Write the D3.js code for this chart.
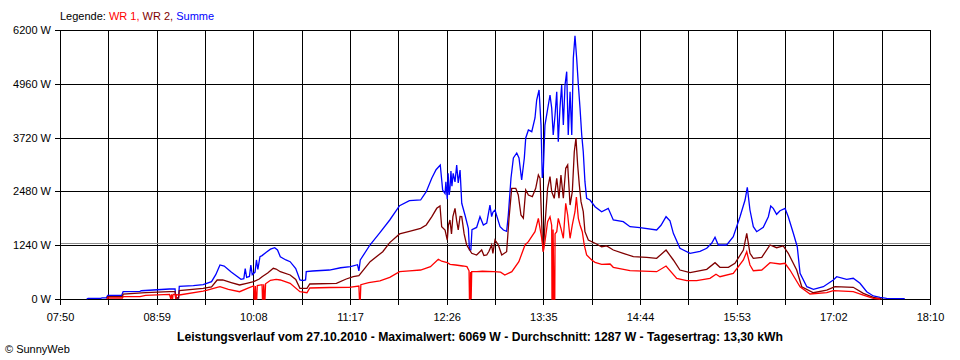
<!DOCTYPE html>
<html><head><meta charset="utf-8">
<script src="https://cdn.jsdelivr.net/npm/d3@7"></script>
<style>
html,body{margin:0;padding:0;background:#fff;}
svg{display:block;font-family:"Liberation Sans",Arial,sans-serif;}
</style></head>
<body>
<svg id="chart" width="960" height="360"></svg>
<script>
// ---- data (time in minutes after midnight, power in W) ----
const xTickLabels = ["07:50","08:59","10:08","11:17","12:26","13:35","14:44","15:53","17:02","18:10"];
const yTickValues = [0,1240,2480,3720,4960,6200];
const startMin = 470, endMin = 1090, gridCount = 18;
const averageW = 1287;
const titleText = "Leistungsverlauf vom 27.10.2010 - Maximalwert: 6069 W - Durchschnitt: 1287 W - Tagesertrag: 13,30 kWh";
const legendItems = [["Legende: ","#000000"],["WR 1, ","#ff0000"],["WR 2, ","#800000"],["Summe","#0000ff"]];

const summe = [[489,0],[490,15],[499,15],[500,25],[503,25],[504,85],[514,85],[515,170],[527,175],[528,190],[548,230],[552,235],[552.5,25],[554.5,25],[555,290],[565,310],[572,330],[578,400],[581,560],[584,784],[587,760],[592,620],[599,454],[601,470],[602,700],[603,500],[605,520],[606,780],[607,560],[609,620],[610,900],[611,680],[612.5,975],[614,1000],[617,1080],[620,1150],[623,1182],[625,1130],[627,975],[631,900],[634,860],[638,700],[641,438],[643,425],[645,440],[645.5,630],[650,645],[662,668],[670,720],[677,744],[682,790],[683,650],[684,900],[691,1250],[698,1530],[705,1821],[712,2150],[719,2266],[727,2282],[731,2473],[735,2789],[738,2980],[741,3088],[742.7,2512],[744.4,2430],[745,2700],[746,2300],[746.6,2900],[747.3,2400],[747.9,2530],[748.6,2950],[749.3,2600],[750.2,2897],[751.5,2700],[752.7,3088],[753.8,2674],[755.1,2973],[756.3,2206],[758.6,1936],[761,1629],[761.8,1130],[762.8,1130],[763.6,1600],[766.9,1650],[769.3,1897],[771.7,1706],[774.1,1750],[776.4,2166],[777.6,1897],[778.5,2000],[780,2051],[781.4,1900],[783.6,1666],[786,1590],[788.3,1560],[789.5,1940],[791.4,2789],[793.1,3250],[795.5,3365],[797.1,3250],[799,2743],[800.9,3250],[801.9,3711],[803.8,3895],[806.2,3856],[808.5,4172],[809.7,4587],[811.4,4817],[812.8,4010],[813.7,2789],[814.4,2934],[815.6,4010],[816.8,4240],[818,4471],[819.2,4702],[820.4,4402],[821.5,3780],[822.8,4240],[824,4778],[825.1,3625],[826.3,4402],[827.5,4933],[828.7,4010],[829.9,4933],[831.1,5239],[832.2,3780],[833.5,4778],[834.7,3780],[835.8,5548],[837,6069],[838.2,5548],[839.4,4933],[840.6,4395],[841.8,3780],[842.9,3395],[844.1,2704],[845.3,2321],[847.7,2282],[851.3,2127],[856,2012],[860.7,2090],[864.3,1821],[871.4,1782],[876.2,1666],[883.3,1643],[895.2,1590],[898.3,1700],[901.9,1897],[904.7,1800],[907.1,1514],[911.8,1169],[919,1053],[926.1,1100],[930.9,1169],[934.4,1284],[936.8,1422],[939.1,1245],[945.1,1245],[949.8,1436],[954.6,1897],[958.2,2282],[959.8,2574],[961.7,2051],[964.1,1666],[966.5,1551],[971.2,1653],[974.8,1897],[976.5,2143],[978.3,2090],[980.7,1952],[983.1,2035],[986.7,2090],[989,1897],[992.6,1514],[995.4,1205],[997.4,592],[1002.2,283],[1006.9,224],[1014,283],[1021.1,438],[1023.5,514],[1030.6,454],[1035.3,477],[1040.1,362],[1044.9,168],[1049.6,69],[1054.4,39],[1059.1,15],[1072,10]];

const wr2 = [[503.5,0],[504,53],[514.5,53],[515,115],[531,145],[548,168],[552,168],[552.5,23],[554.5,23],[555,191],[572,247],[578,280],[582,438],[586,438],[592,380],[598,323],[603,360],[608,399],[612,460],[614,514],[618,600],[622,708],[624,690],[627,629],[634,553],[638,450],[641,247],[646,247],[648,346],[667,362],[674,461],[679,514],[683,540],[691,860],[700,1090],[705,1300],[712,1500],[719,1560],[727,1629],[731,1706],[735,1897],[738.5,2090],[740.8,2143],[742,1666],[744.4,1590],[746,1360],[746.8,1700],[747.9,1821],[749,1500],[750,1900],[751.5,2090],[752.7,1800],[753.8,1590],[755.1,1900],[756.3,1897],[758,1500],[759.8,1245],[763.4,1053],[766.9,1014],[770.5,1129],[772.1,1000],[774.1,1014],[775.7,1100],[777.6,1245],[778.5,1050],[780,1360],[782.4,1245],[784.8,1014],[788.3,1090],[790,1860],[791.9,2551],[794.8,2551],[796.6,2397],[798.5,1936],[800.2,1860],[801.9,2512],[803.8,2397],[806.6,2358],[809,2551],[810.9,2858],[812.1,2782],[813.7,1399],[814.4,1090],[815.6,1706],[817.5,2551],[819.2,2819],[820.4,2473],[822.2,2321],[824,2782],[825.6,2321],[827,2858],[828.7,2321],[830.4,3012],[831.8,3088],[833.5,2166],[835.1,2473],[836.5,3395],[837.7,3711],[838.9,3088],[840.1,2627],[841.3,2243],[842.9,2012],[844.1,1551],[846.5,1360],[851.3,1284],[856,1205],[859.6,1222],[864.3,1129],[871.4,1053],[878.6,975],[888.1,961],[895.2,938],[901.9,1129],[907.1,899],[911.8,668],[919,606],[930.9,685],[936.8,837],[940.3,731],[946.3,731],[951,823],[957,1129],[959.4,1514],[961.7,1053],[964.1,938],[970.1,961],[976,1245],[980.7,1182],[985.4,1222],[989,1053],[995,668],[998.6,283],[1006.9,145],[1016.4,207],[1022.3,283],[1035.3,270],[1042.5,131],[1049.6,39],[1055.6,0]];

const wr1 = [[503.5,0],[504,23],[514.5,23],[515,53],[527,53],[531,85],[548,108],[549,0],[549.4,108],[550.2,0],[550.6,108],[552,108],[552.5,0],[553,100],[555,92],[572,180],[575,207],[582,270],[584,283],[590,220],[598,168],[604,250],[608,300],[608.3,0],[608.8,0],[609.2,300],[609.7,0],[610.2,0],[610.6,310],[614,330],[614.3,0],[614.8,0],[615.2,340],[615.6,0],[616.1,0],[616.5,350],[620,430],[624,454],[627,438],[634,362],[641,168],[646,145],[648,254],[662,265],[676,270],[683,300],[683.4,0],[684,0],[684.4,330],[690,380],[698,420],[705,500],[712,629],[719,650],[727,668],[734,744],[739.6,915],[742,870],[746,837],[748,800],[752,784],[757,761],[760,745],[761.5,650],[761.8,0],[762.4,0],[762.6,620],[763,0],[763.4,629],[767,629],[771,640],[779,629],[784,620],[787,553],[792,629],[797,860],[801.4,1245],[803.8,1321],[808.5,1551],[810.9,1860],[813.3,1399],[814.4,1090],[815.6,1321],[817.5,1782],[819.2,1897],[820.4,1700],[820.6,0],[821.2,0],[821.4,1600],[822,0],[822.6,0],[822.8,1500],[824,1551],[825.1,1860],[827,1629],[828.7,1399],[830.4,2206],[831.8,1936],[833.5,1399],[835.1,1706],[837,2012],[838,2351],[839.4,1860],[840.6,1706],[842.2,1551],[843.6,1245],[845.3,1014],[848.9,899],[851.3,846],[856,800],[862,807],[864.3,731],[876.2,652],[895.2,629],[901.9,761],[909.5,477],[916.6,422],[923.7,422],[933.2,477],[937.5,569],[940.3,514],[949.8,592],[957,899],[959.4,1090],[961.7,784],[964.1,652],[970.1,668],[976,837],[983.1,807],[986.7,823],[990.2,668],[997.4,283],[1004.5,115],[1016.4,145],[1021.1,191],[1035.3,168],[1042.5,92],[1049.6,16],[1054.4,0]];

// ---- drawing ----
const svg = d3.select("#chart");
const x = d3.scaleLinear().domain([startMin, endMin]).range([60, 930]);
const y = d3.scaleLinear().domain([0, 6200]).range([299, 30]);
const gridVals = d3.range(gridCount + 1).map(i => startMin + i * (endMin - startMin) / gridCount);

svg.append("rect").attr("width",960).attr("height",360).attr("fill","#fff");

// legend
const leg = svg.append("text").attr("x",60).attr("y",20).attr("font-size",11);
legendItems.forEach(([t,c]) => leg.append("tspan").attr("fill",c).text(t));

const px = v => Math.round(v) + 0.5;

// vertical grid + ticks
svg.append("g").selectAll("line").data(gridVals).join("line")
  .attr("x1", d => px(x(d))).attr("x2", d => px(x(d)))
  .attr("y1", y(6200)).attr("y2", 305)
  .attr("stroke","#000").attr("stroke-width",1);

// horizontal grid + ticks
svg.append("g").selectAll("line").data(yTickValues).join("line")
  .attr("x1",55).attr("x2",931)
  .attr("y1", d => px(y(d))).attr("y2", d => px(y(d)))
  .attr("stroke","#000").attr("stroke-width",1);

// average line
svg.append("line").attr("x1",61).attr("x2",930)
  .attr("y1", px(y(averageW))).attr("y2", px(y(averageW)))
  .attr("stroke","#8c8c8c").attr("stroke-width",1);

// y labels
svg.append("g").selectAll("text").data(yTickValues).join("text")
  .attr("x",51).attr("y", d => y(d) + 4)
  .attr("text-anchor","end").attr("font-size",11).attr("fill","#000")
  .text(d => d + " W");

// x labels
svg.append("g").selectAll("text").data(xTickLabels).join("text")
  .attr("x", (d,i) => x(gridVals[i*2]) + 0.5).attr("y", 321)
  .attr("text-anchor","middle").attr("font-size",11).attr("fill","#000")
  .text(d => d);

// series
const line = d3.line().x(d => x(d[0])).y(d => y(d[1]));
[[summe,"#0000ff"],[wr2,"#800000"],[wr1,"#ff0000"]].forEach(([data,c]) => {
  svg.append("path").datum(data).attr("d", line)
    .attr("fill","none").attr("stroke",c).attr("stroke-width",1.3)
    .attr("stroke-linejoin","miter");
});

// title
svg.append("text").attr("x",480).attr("y",341).attr("text-anchor","middle")
  .attr("font-size",12).attr("font-weight","bold").attr("fill","#000")
  .attr("textLength",606).attr("lengthAdjust","spacingAndGlyphs").text(titleText);

// copyright
svg.append("text").attr("x",5).attr("y",353).attr("font-size",11).attr("fill","#000").text("© SunnyWeb");
</script>
</body></html>
